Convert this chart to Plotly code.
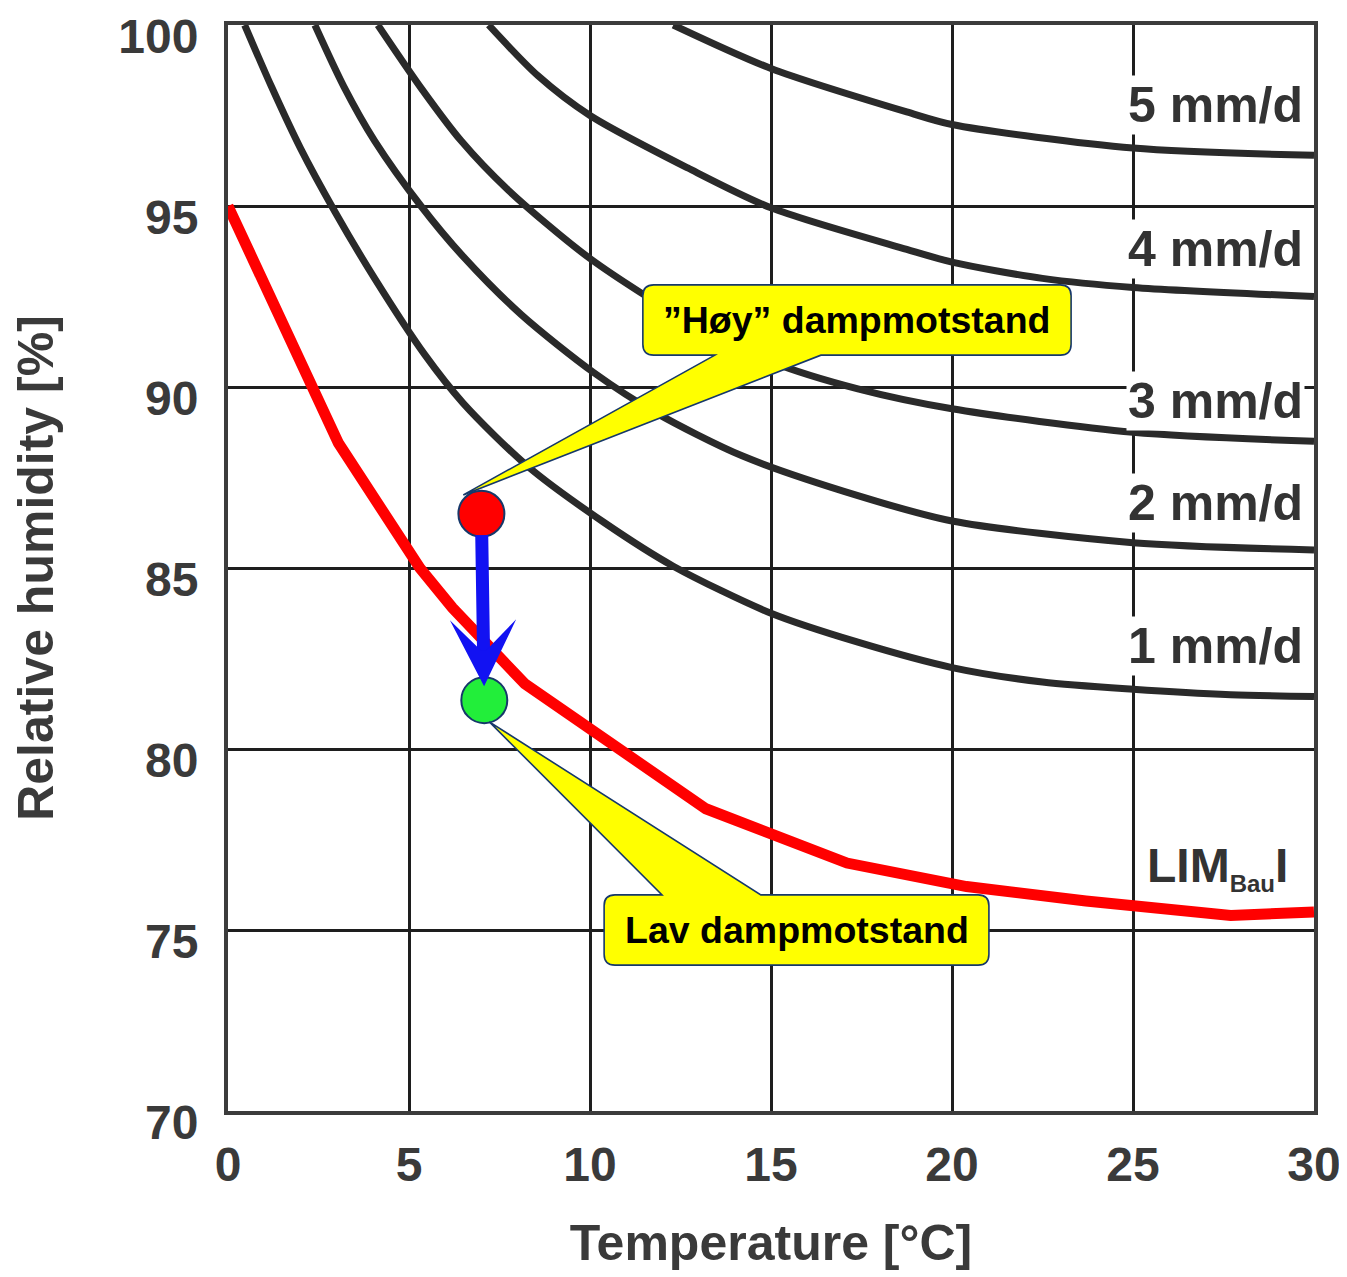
import plotly.graph_objects as go

# ---------------- data ----------------
T_1 = [0.46, 1.2, 2.0, 2.95, 4.05, 5.43, 6.5, 8.29, 10.4, 12.3, 15.0, 17.4, 20.0, 22.5, 25.0, 27.7, 30.0]
RH_1 = [100, 98.3, 96.6, 94.85, 93.0, 90.9, 89.55, 87.8, 86.25, 85.05, 83.75, 82.95, 82.25, 81.85, 81.65, 81.5, 81.45]

T_2 = [2.4, 3.2, 4.05, 5.33, 6.5, 8.1, 10.1, 11.8, 14.2, 17.4, 20.0, 25.0, 30.0]
RH_2 = [100, 98.3, 96.8, 95.0, 93.6, 92.0, 90.4, 89.3, 88.1, 87.0, 86.3, 85.7, 85.5]

T_3 = [4.14, 5.34, 6.44, 7.73, 10.0, 12.73, 15.0, 17.4, 20.0, 25.0, 30.0]
RH_3 = [100, 98.25, 96.8, 95.45, 93.55, 91.8, 90.7, 89.95, 89.4, 88.75, 88.5]

T_4 = [7.2, 8.56, 10.0, 12.7, 15.0, 18.75, 20.0, 22.5, 25.0, 30.0]
RH_4 = [100, 98.6, 97.5, 96.05, 94.95, 93.8, 93.45, 93.0, 92.75, 92.5]

T_5 = [12.3, 15.0, 18.75, 20.0, 25.0, 30.0]
RH_5 = [100, 98.8, 97.6, 97.25, 96.6, 96.4]

T_LIM = [0, 3.05, 5.3, 6.2, 8.2, 10.2, 13.2, 17.1, 20.4, 23.7, 27.7, 30]
RH_LIM = [95, 88.45, 85.0, 83.9, 81.8, 80.45, 78.35, 76.85, 76.2, 75.8, 75.4, 75.5]

CURVE_LABELS = ["1 mm/d", "2 mm/d", "3 mm/d", "4 mm/d", "5 mm/d"]
CURVE_LABEL_RH = [82.85, 86.8, 89.6, 93.8, 97.8]
LIM_LABEL_RH = 76.7

HIGH_POINT = (7.0, 86.5)    # "Høy" dampmotstand
LOW_POINT = (7.08, 81.35)   # Lav dampmotstand

X_TICKS = [0, 5, 10, 15, 20, 25, 30]
Y_TICKS = [70, 75, 80, 85, 90, 95, 100]

# ---------------- styling ----------------
FONT = "Liberation Sans, Arial, sans-serif"
CURVE_COLOR = "#2a2a2a"
GRID_COLOR = "#1e1e1e"
TEXT_COLOR = "#3a3a3a"
NAVY = "#16386a"

fig = go.Figure()

for T, RH in [(T_1, RH_1), (T_2, RH_2), (T_3, RH_3), (T_4, RH_4), (T_5, RH_5)]:
    fig.add_trace(go.Scatter(x=T, y=RH, mode="lines",
                             line=dict(color=CURVE_COLOR, width=7, shape="spline", smoothing=0.8),
                             showlegend=False, hoverinfo="skip"))

fig.add_trace(go.Scatter(x=T_LIM, y=RH_LIM, mode="lines",
                         line=dict(color="#ff0000", width=11),
                         showlegend=False, hoverinfo="skip"))

fig.add_trace(go.Scatter(x=[HIGH_POINT[0]], y=[HIGH_POINT[1]], mode="markers",
                         marker=dict(size=46, color="#ff0000", line=dict(color=NAVY, width=2)),
                         showlegend=False, hoverinfo="skip"))
fig.add_trace(go.Scatter(x=[LOW_POINT[0]], y=[LOW_POINT[1]], mode="markers",
                         marker=dict(size=46, color="#22ee3a", line=dict(color=NAVY, width=2)),
                         showlegend=False, hoverinfo="skip"))


def bubble(x0, x1, y0, y1, r, b0, b1, tip, tail_bottom=True):
    tx, ty = tip
    if tail_bottom:
        p = (f"M {x0+r},{y1} L {x1-r},{y1} Q {x1},{y1} {x1},{y1-r} "
             f"L {x1},{y0+r} Q {x1},{y0} {x1-r},{y0} "
             f"L {b1},{y0} L {tx},{ty} L {b0},{y0} "
             f"L {x0+r},{y0} Q {x0},{y0} {x0},{y0+r} "
             f"L {x0},{y1-r} Q {x0},{y1} {x0+r},{y1} Z")
    else:
        p = (f"M {x0+r},{y1} L {b0},{y1} L {tx},{ty} L {b1},{y1} "
             f"L {x1-r},{y1} Q {x1},{y1} {x1},{y1-r} "
             f"L {x1},{y0+r} Q {x1},{y0} {x1-r},{y0} "
             f"L {x0+r},{y0} Q {x0},{y0} {x0},{y0+r} "
             f"L {x0},{y1-r} Q {x0},{y1} {x0+r},{y1} Z")
    return dict(type="path", path=p, xref="x", yref="y", layer="above",
                fillcolor="#ffff00", line=dict(color=NAVY, width=1.6))


# callout boxes (layout geometry)
HIGH_BOX = (11.46, 23.29, 90.88, 92.82)
LOW_BOX = (10.39, 21.02, 74.03, 75.97)
high_tip = (HIGH_POINT[0] - 0.5, HIGH_POINT[1] + 0.52)
low_tip = (LOW_POINT[0] + 0.14, LOW_POINT[1] - 0.6)

fig.add_shape(**bubble(*HIGH_BOX, 0.3, 13.45, 16.38, high_tip, tail_bottom=True))
fig.add_shape(**bubble(*LOW_BOX, 0.3, 11.99, 14.72, low_tip, tail_bottom=False))

fig.add_annotation(x=(HIGH_BOX[0] + HIGH_BOX[1]) / 2, y=(HIGH_BOX[2] + HIGH_BOX[3]) / 2,
                   text="\u201dHøy\u201d dampmotstand", showarrow=False,
                   font=dict(family=FONT, size=37.5, color="#000000", weight="bold"))
fig.add_annotation(x=(LOW_BOX[0] + LOW_BOX[1]) / 2, y=(LOW_BOX[2] + LOW_BOX[3]) / 2,
                   text="Lav dampmotstand", showarrow=False,
                   font=dict(family=FONT, size=37.5, color="#000000", weight="bold"))

# arrow from high to low
fig.add_annotation(x=LOW_POINT[0], y=LOW_POINT[1], ax=HIGH_POINT[0], ay=HIGH_POINT[1],
                   xref="x", yref="y", axref="x", ayref="y", text="",
                   showarrow=True, arrowhead=3, arrowsize=0.85, arrowwidth=13,
                   arrowcolor="#1212f2", standoff=14, startstandoff=20)

# curve labels
for lab, yy in zip(CURVE_LABELS, CURVE_LABEL_RH):
    fig.add_annotation(x=29.75, y=yy, text=lab, showarrow=False, xanchor="right",
                       bgcolor="white", borderpad=1,
                       font=dict(family=FONT, size=50, color="#333333", weight="bold"))
fig.add_annotation(x=29.35, y=LIM_LABEL_RH,
                   text="LIM<sub><span style='font-size:24px'>Bau</span></sub>I",
                   showarrow=False, xanchor="right",
                   font=dict(family=FONT, size=48, color="#333333", weight="bold"))

axis_common = dict(showgrid=True, gridcolor=GRID_COLOR, gridwidth=2.5,
                   showline=True, linecolor="#3c3c3c", linewidth=4, mirror=True,
                   zeroline=False, ticks="", ticklabeloverflow="allow",
                   tickfont=dict(family=FONT, size=48, color=TEXT_COLOR, weight="bold"))

fig.update_xaxes(range=[0, 30], tickvals=X_TICKS, ticktext=[str(v) for v in X_TICKS],
                 ticklabelstandoff=8,
                 title=dict(text="Temperature [°C]", standoff=36,
                            font=dict(family=FONT, size=50, color=TEXT_COLOR, weight="bold")),
                 **axis_common)
fig.update_yaxes(range=[70, 100], tickvals=Y_TICKS, ticktext=[str(v) for v in Y_TICKS],
                 ticklabelstandoff=16, ticklabelshift=11,
                 title=dict(text="Relative humidity [%]", standoff=62,
                            font=dict(family=FONT, size=50, color=TEXT_COLOR, weight="bold")),
                 **axis_common)

fig.update_layout(width=1347, height=1277,
                  margin=dict(l=220, r=41, t=17, b=174, autoexpand=False),
                  paper_bgcolor="white", plot_bgcolor="white",
                  showlegend=False)

fig.write_html("out.html")
